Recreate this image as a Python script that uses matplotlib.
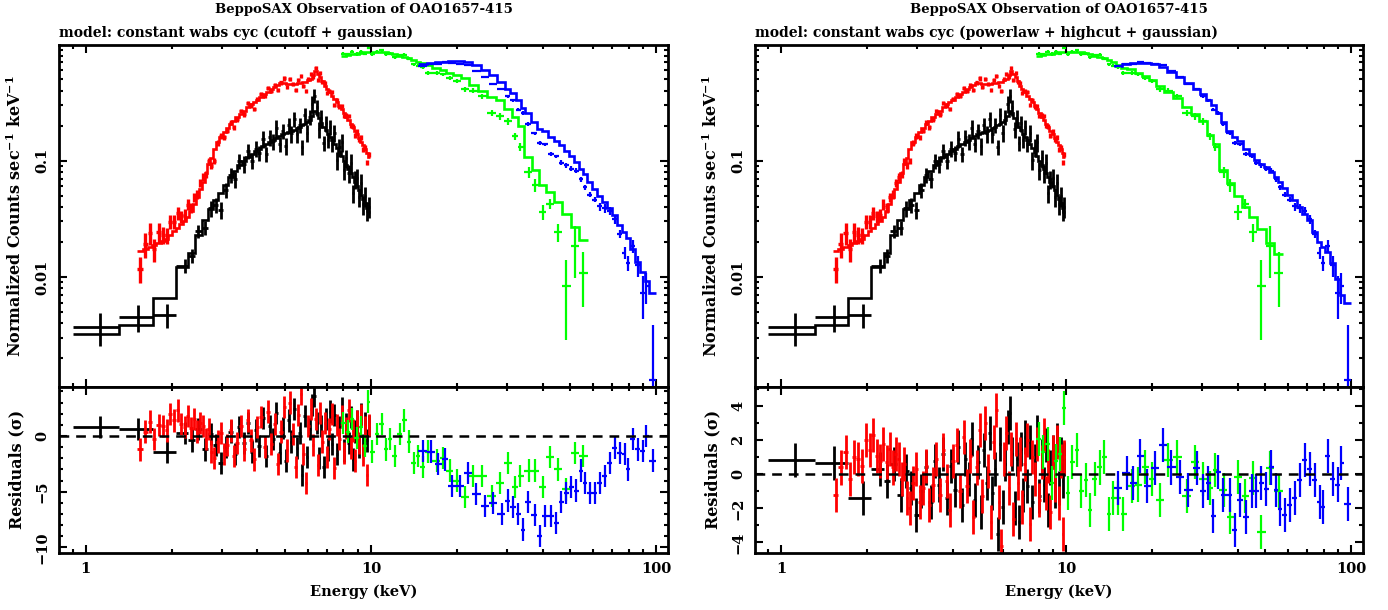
import numpy as np
import matplotlib
matplotlib.use('Agg')
import matplotlib.pyplot as plt
from matplotlib.ticker import LogLocator, MultipleLocator, NullFormatter

TITLE = 'BeppoSAX Observation of OAO1657-415'
MODEL_LEFT = 'model: constant wabs cyc (cutoff + gaussian)'
MODEL_RIGHT = 'model: constant wabs cyc (powerlaw + highcut + gaussian)'

# LECS (black): 3 wide bins + dense part
black_e = [1.12, 1.53, 1.93,
           2.22, 2.35, 2.48, 2.62, 2.74, 2.86, 2.98, 3.10, 3.22, 3.34,
           3.46, 3.58, 3.70, 3.82, 3.94, 4.06, 4.18, 4.30, 4.42, 4.54,
           4.66, 4.78, 4.90, 5.02, 5.14, 5.26, 5.38, 5.50, 5.62, 5.74,
           5.86, 5.98, 6.10, 6.22, 6.34, 6.46, 6.58, 6.70, 6.82, 6.94,
           7.06, 7.18, 7.30, 7.45, 7.60, 7.75, 7.90, 8.05, 8.20, 8.35,
           8.50, 8.65, 8.80, 8.95, 9.10, 9.25, 9.40, 9.55, 9.70, 9.85]
black_first_edge = 0.90
black_data = [0.00372, 0.00455, 0.00473,
              0.0125, 0.0152, 0.0247, 0.0265, 0.0389, 0.0416, 0.0377, 0.0558, 0.0749, 0.0689,
              0.0994, 0.094, 0.121, 0.0989, 0.127, 0.116, 0.154, 0.114, 0.158, 0.146,
              0.190, 0.139, 0.180, 0.134, 0.201, 0.171, 0.229, 0.169, 0.202, 0.131,
              0.245, 0.174, 0.239, 0.307, 0.360, 0.286, 0.186, 0.231, 0.141, 0.209,
              0.150, 0.195, 0.140, 0.173, 0.101, 0.130, 0.144, 0.0831, 0.105, 0.0784,
              0.0952, 0.0523, 0.0694, 0.0713, 0.0487, 0.0643, 0.0421, 0.0497, 0.0370, 0.0402]
black_frac = [0.32, 0.26, 0.23,
              0.14, 0.14, 0.13, 0.14, 0.15, 0.15, 0.16, 0.15, 0.15, 0.16,
              0.15, 0.16, 0.14, 0.15, 0.16, 0.15, 0.16, 0.14, 0.15, 0.16,
              0.17, 0.15, 0.14, 0.16, 0.15, 0.17, 0.15, 0.16, 0.14, 0.15,
              0.16, 0.17, 0.15, 0.16, 0.14, 0.15, 0.16, 0.17, 0.15, 0.16,
              0.14, 0.15, 0.16, 0.17, 0.18, 0.17, 0.18, 0.18, 0.17, 0.18,
              0.19, 0.18, 0.18, 0.19, 0.18, 0.19, 0.19, 0.20, 0.19, 0.20]
black_model = [0.00326, 0.00383, 0.00664,
               0.0121, 0.0160, 0.0230, 0.0310, 0.0380, 0.0460, 0.0530, 0.0620, 0.0720, 0.0820,
               0.0920, 0.100, 0.108, 0.115, 0.121, 0.127, 0.133, 0.139, 0.145, 0.151,
               0.157, 0.163, 0.168, 0.172, 0.176, 0.180, 0.185, 0.190, 0.196, 0.202,
               0.208, 0.215, 0.225, 0.240, 0.265, 0.255, 0.232, 0.212, 0.196, 0.182,
               0.170, 0.160, 0.150, 0.139, 0.128, 0.118, 0.109, 0.100, 0.092, 0.085,
               0.078, 0.072, 0.066, 0.061, 0.056, 0.051, 0.047, 0.043, 0.039, 0.036]
black_res = [0.83, 0.65, -1.4,
             0.3, -0.4, 0.6, -1.2, 0.2, -0.8, -2.4, -1.0, 0.4, -1.6,
             0.8, -0.6, 1.2, -1.4, 0.5, -0.9, 1.6, -1.8, 0.9, -0.3,
             2.1, -1.5, 0.7, -2.2, 1.4, -0.5, 2.4, -1.1, 0.3, -3.5,
             1.8, -1.9, 0.6, 2.8, 3.6, 1.2, -2.0, 0.9, -2.8, 1.5,
             -1.2, 2.2, -0.7, 1.9, -1.6, 0.8, 2.5, -1.3, 1.1, -0.6,
             1.7, -2.1, 0.4, 1.3, -1.0, 2.0, -0.8, 1.2, -0.4, 0.9]

# MECS (red)
red_e = [1.55, 1.62, 1.68, 1.74, 1.80, 1.86, 1.92, 1.98, 2.04, 2.10,
         2.16, 2.22, 2.28, 2.34, 2.40, 2.46, 2.52, 2.58, 2.64, 2.70,
         2.76, 2.82, 2.90, 2.98, 3.06, 3.14, 3.22, 3.30, 3.40, 3.50,
         3.60, 3.70, 3.80, 3.90, 4.00, 4.12, 4.24, 4.36, 4.48, 4.60,
         4.72, 4.84, 4.96, 5.08, 5.20, 5.32, 5.44, 5.56, 5.68, 5.80,
         5.92, 6.04, 6.16, 6.28, 6.40, 6.52, 6.64, 6.76, 6.88, 7.00,
         7.15, 7.30, 7.45, 7.60, 7.75, 7.90, 8.05, 8.20, 8.35, 8.50,
         8.65, 8.80, 8.95, 9.10, 9.25, 9.40, 9.55, 9.70, 9.85]
red_data = [0.0118, 0.0193, 0.0239, 0.0173, 0.0244, 0.0230, 0.0228, 0.0299, 0.0299, 0.0356,
            0.0332, 0.0342, 0.0419, 0.0396, 0.0483, 0.0510, 0.0644, 0.0719, 0.0757, 0.0986,
            0.0903, 0.100, 0.1407, 0.163, 0.158, 0.181, 0.211, 0.194, 0.227, 0.266,
            0.249, 0.314, 0.298, 0.278, 0.341, 0.374, 0.357, 0.424, 0.399, 0.449,
            0.403, 0.469, 0.508, 0.431, 0.506, 0.459, 0.407, 0.497, 0.537, 0.440,
            0.398, 0.506, 0.553, 0.523, 0.620, 0.497, 0.564, 0.470, 0.461, 0.379,
            0.394, 0.391, 0.301, 0.331, 0.292, 0.295, 0.241, 0.245, 0.242, 0.199,
            0.197, 0.164, 0.177, 0.151, 0.159, 0.124, 0.130, 0.0957, 0.113]
red_frac = [0.25, 0.24, 0.22, 0.22, 0.20, 0.16, 0.15, 0.14, 0.14, 0.13,
            0.12, 0.12, 0.11, 0.10, 0.09, 0.09, 0.08, 0.08, 0.07, 0.07,
            0.07, 0.06, 0.06, 0.06, 0.055, 0.05, 0.05, 0.05, 0.05, 0.045,
            0.045, 0.045, 0.045, 0.04, 0.04, 0.04, 0.04, 0.04, 0.04, 0.04,
            0.04, 0.04, 0.04, 0.04, 0.04, 0.04, 0.04, 0.04, 0.04, 0.04,
            0.04, 0.04, 0.04, 0.04, 0.04, 0.04, 0.04, 0.04, 0.04, 0.04,
            0.04, 0.04, 0.04, 0.04, 0.04, 0.04, 0.045, 0.045, 0.045, 0.045,
            0.045, 0.045, 0.05, 0.05, 0.05, 0.05, 0.05, 0.05, 0.05]
red_model = [0.0168, 0.0175, 0.0180, 0.0187, 0.0195, 0.0203, 0.0212, 0.0230, 0.0247, 0.0265,
             0.0285, 0.0305, 0.0330, 0.0370, 0.0420, 0.0490, 0.0575, 0.0660, 0.0780, 0.0930,
             0.105, 0.125, 0.145, 0.160, 0.175, 0.190, 0.205, 0.218, 0.235, 0.252,
             0.268, 0.290, 0.305, 0.318, 0.330, 0.350, 0.372, 0.390, 0.410, 0.430,
             0.448, 0.462, 0.460, 0.455, 0.452, 0.455, 0.458, 0.462, 0.466, 0.470,
             0.478, 0.488, 0.505, 0.540, 0.585, 0.555, 0.520, 0.480, 0.440, 0.410,
             0.385, 0.362, 0.340, 0.318, 0.296, 0.275, 0.256, 0.238, 0.222, 0.208,
             0.193, 0.180, 0.168, 0.156, 0.145, 0.135, 0.125, 0.116, 0.108]
red_res = [-1.2, 0.4, 1.3, -0.3, 1.0, 0.9, 0.5, 2.0, 1.4, 2.3,
           1.1, 0.8, 1.8, 0.7, 1.5, 0.4, 1.2, 0.9, -0.3, 0.6,
           -1.4, -2.0, -0.5, 0.3, -1.6, -0.8, 0.5, -1.8, -0.6, 0.9,
           -1.2, 1.4, -0.4, -2.1, 0.8, 1.7, -1.0, 2.2, -0.7, 1.1,
           -2.5, 0.4, 2.6, -1.3, 3.0, 0.2, -2.8, 1.9, 3.8, -1.6,
           -4.2, 0.9, 2.4, -0.8, 1.5, -2.6, 2.1, -0.5, 1.2, -1.9,
           0.6, 2.0, -2.9, 1.0, -0.3, 1.8, -1.5, 0.7, 2.3, -1.1,
           0.5, -2.2, 1.3, -0.6, 1.9, -1.7, 0.8, -3.5, 1.0]

# HPGSPC (green)
green_e = [8.0, 8.3, 8.6, 8.9, 9.2, 9.5, 9.8, 10.1, 10.5, 10.9,
           11.3, 11.7, 12.1, 12.6, 13.1, 13.6, 14.1, 14.6, 15.2, 15.8,
           17.0, 17.9, 18.9, 20.0, 21.4, 22.8, 24.5, 26.5, 28.4, 30.3,
           32.0, 33.3, 35.7, 37.6, 40.0, 42.5, 45.1, 48.3, 52.0, 55.6]
green_data = [0.83, 0.82, 0.86, 0.825, 0.86, 0.83, 0.93, 0.825, 0.865, 0.89,
              0.82, 0.83, 0.775, 0.805, 0.815, 0.75, 0.67, 0.655, 0.64, 0.57,
              0.57, 0.55, 0.516, 0.483, 0.41, 0.40, 0.358, 0.257, 0.240, 0.218,
              0.162, 0.132, 0.080, 0.0615, 0.0361, 0.0426, 0.0243, 0.0084, 0.0186, 0.0109]
green_err = [0.025, 0.025, 0.026, 0.025, 0.026, 0.025, 0.027, 0.025, 0.026, 0.026,
             0.025, 0.025, 0.024, 0.025, 0.025, 0.024, 0.023, 0.023, 0.022, 0.022,
             0.021, 0.021, 0.020, 0.020, 0.019, 0.019, 0.018, 0.016, 0.015, 0.014,
             0.012, 0.011, 0.0085, 0.0075, 0.0055, 0.0045, 0.0042, 0.0055, 0.0088, 0.0054]
green_model_left = [0.80, 0.81, 0.82, 0.83, 0.84, 0.85, 0.855, 0.86, 0.86, 0.86,
                    0.85, 0.84, 0.82, 0.80, 0.78, 0.76, 0.73, 0.70, 0.69, 0.66,
                    0.62, 0.60, 0.57, 0.54, 0.51, 0.45, 0.40, 0.355, 0.335, 0.28,
                    0.235, 0.20, 0.108, 0.083, 0.062, 0.054, 0.044, 0.035, 0.027, 0.0206]
green_model_right = [0.80, 0.81, 0.82, 0.83, 0.84, 0.85, 0.855, 0.86, 0.86, 0.86,
                     0.85, 0.84, 0.82, 0.80, 0.78, 0.76, 0.73, 0.70, 0.66, 0.63,
                     0.61, 0.57, 0.53, 0.49, 0.44, 0.39, 0.345, 0.29, 0.25, 0.22,
                     0.165, 0.14, 0.083, 0.064, 0.050, 0.040, 0.033, 0.026, 0.0195, 0.0157]
green_res_left = [1.2, 0.4, 1.5, -0.2, 0.8, -0.9, 3.1, -1.4, 0.2, 1.1,
                  -1.2, -0.3, -1.8, 0.2, 1.4, -0.5, -2.4, -1.8, -2.8, -1.4,
                  -2.2, -2.0, -3.1, -4.0, -5.5, -3.6, -3.6, -5.4, -4.2, -2.4,
                  -4.6, -3.6, -3.1, -3.1, -4.6, -1.9, -3.0, -4.8, -1.5, -1.8]
green_res_right = [2.1, 1.3, 1.8, -0.5, 0.8, 1.2, 3.9, -1.1, 0.75, 1.4,
                   -1.0, -0.35, -2.1, -0.3, 0.4, 1.0, -2.35, -1.4, -1.4, -2.35,
                   -0.7, -0.6, 0.45, -0.3, -1.5, 0.85, 1.0, -1.3, 0.75, -0.3,
                   -0.8, 0.25, -0.9, -2.5, -0.15, -1.3, -0.2, -3.4, 0.35, -1.0]

# PDS (blue)
blue_e = [15.2, 16.3, 17.2, 18.2, 19.2, 20.5, 21.9, 23.4, 25.1, 26.8,
          28.7, 30.2, 31.5, 32.8, 34.1, 35.5, 37.5, 39.0, 40.6, 42.9,
          44.7, 46.5, 48.4, 50.4, 52.5, 54.6, 56.1, 58.4, 60.8, 63.3,
          65.9, 68.6, 71.5, 74.4, 77.5, 79.6, 82.7, 86.2, 89.8, 92.2, 97.3]
blue_data = [0.645, 0.673, 0.678, 0.708, 0.685, 0.680, 0.657, 0.585, 0.518, 0.452,
             0.413, 0.357, 0.329, 0.274, 0.256, 0.206, 0.171, 0.142, 0.138, 0.114,
             0.109, 0.096, 0.091, 0.085, 0.0816, 0.0694, 0.0592, 0.051, 0.046, 0.0404,
             0.0389, 0.0368, 0.0313, 0.0236, 0.0161, 0.0132, 0.0184, 0.0126, 0.0073, 0.0084, 0.0013]
blue_frac = [0.02, 0.02, 0.02, 0.02, 0.02, 0.02, 0.02, 0.02, 0.02, 0.02,
             0.02, 0.035, 0.035, 0.035, 0.035, 0.035, 0.035, 0.035, 0.035, 0.035,
             0.035, 0.05, 0.05, 0.05, 0.05, 0.05, 0.05, 0.05, 0.05, 0.08,
             0.08, 0.08, 0.08, 0.08, 0.12, 0.14, 0.12, 0.20, 0.40, 0.30, 2.0]
blue_model_left = [0.675, 0.69, 0.70, 0.71, 0.715, 0.715, 0.70, 0.66, 0.60, 0.54,
                   0.47, 0.415, 0.38, 0.33, 0.285, 0.255, 0.215, 0.188, 0.18, 0.16,
                   0.148, 0.135, 0.12, 0.11, 0.098, 0.085, 0.077, 0.066, 0.057, 0.050,
                   0.044, 0.039, 0.034, 0.028, 0.0245, 0.0215, 0.0175, 0.0135, 0.011, 0.0092, 0.0073]
blue_model_right = [0.655, 0.672, 0.685, 0.693, 0.695, 0.675, 0.635, 0.58, 0.52, 0.46,
                    0.41, 0.37, 0.335, 0.30, 0.255, 0.215, 0.178, 0.16, 0.146, 0.125,
                    0.113, 0.101, 0.093, 0.0887, 0.080, 0.0727, 0.066, 0.058, 0.0504, 0.0455,
                    0.040, 0.0345, 0.0306, 0.0243, 0.0199, 0.018, 0.0163, 0.0133, 0.0096, 0.0070, 0.0060]
blue_res_left = [-1.35, -1.4, -2.5, -2.1, -4.5, -4.5, -3.3, -5.2, -6.3, -6.0,
                 -7.0, -5.8, -6.4, -7.0, -8.4, -5.9, -7.1, -9.0, -7.2, -7.2,
                 -7.8, -5.9, -5.1, -4.6, -4.9, -3.1, -4.2, -5.1, -5.1, -4.2,
                 -3.6, -2.4, -1.1, -1.5, -1.6, -3.0, -0.3, -1.2, -1.35, 0.0, -2.2]
blue_res_right = [-0.8, 0.05, -0.5, 1.05, -0.7, 0.35, 1.75, 0.4, -0.15, -0.9,
                  0.35, -1.0, -0.5, -2.45, 0.15, -1.2, -1.2, -3.25, -1.5, -2.5,
                  -1.0, -1.0, -0.5, -0.85, 0.4, -0.9, -2.05, -2.4, -1.8, -1.4,
                  -0.35, 0.85, 0.3, -0.35, -1.6, -1.9, 1.05, -0.25, -0.6, 0.65, -1.75]

BLACK, RED, GREEN, BLUE = '#000000', '#ff0000', '#00ff00', '#0000ff'
XLIM = (0.808, 110.0)

plt.rcParams['font.family'] = 'DejaVu Serif'
plt.rcParams['font.weight'] = 'bold'
plt.rcParams['axes.labelweight'] = 'bold'
plt.rcParams['font.size'] = 10
plt.rcParams['mathtext.fontset'] = 'dejavuserif'
plt.rcParams['mathtext.default'] = 'bf'
plt.rcParams['lines.scale_dashes'] = False


def bin_edges(e, first=None):
	e = np.asarray(e, float)
	mid = np.sqrt(e[1:] * e[:-1])
	edges = np.concatenate([[e[0] ** 2 / mid[0]], mid, [e[-1] ** 2 / mid[-1]]])
	if first is not None:
		edges[0] = first
	return edges


def spectrum(ax, e, y, err, model, color, first=None, lw=1.4):
	e = np.asarray(e, float)
	y = np.asarray(y, float)
	err = np.asarray(err, float)
	ed = bin_edges(e, first)
	lo = np.minimum(err, y * 0.9999)
	ax.errorbar(e, y, xerr=[e - ed[:-1], ed[1:] - e], yerr=[lo, err],
	            fmt='none', ecolor=color, elinewidth=lw, capsize=0)
	ax.stairs(model, ed, baseline=None, color=color, lw=1.9)


def residuals(ax, e, r, color, first=None, lw=1.4):
	e = np.asarray(e, float)
	ed = bin_edges(e, first)
	ax.errorbar(e, r, xerr=[e - ed[:-1], ed[1:] - e], yerr=1.0,
	            fmt='none', ecolor=color, elinewidth=lw, capsize=0)


def style(ax):
	for s in ax.spines.values():
		s.set_linewidth(2.0)
	ax.tick_params(which='both', direction='in', top=True, right=True, width=1.5,
	               labelsize=10.5)
	ax.tick_params(which='major', length=5.5, pad=7)
	ax.tick_params(which='minor', length=3)
	ax.set_xscale('log')
	ax.set_xlim(*XLIM)
	ax.set_xticks([1, 10, 100], ['1', '10', '100'])
	ax.xaxis.set_minor_locator(LogLocator(base=10, subs=np.arange(2, 10)))
	ax.xaxis.set_minor_formatter(NullFormatter())


def panel(fig, left, width, subtitle, g_model, b_model, g_res, b_res, rlim, rticks):
	top = fig.add_axes([left, 0.36607, width, 0.56016])
	bot = fig.add_axes([left, 0.09393, width, 0.27213])
	for ax in (top, bot):
		style(ax)

	black_err = np.array(black_data) * np.array(black_frac)
	red_err = np.array(red_data) * np.array(red_frac)
	blue_err = np.array(blue_data) * np.array(blue_frac)

	spectrum(top, black_e, black_data, black_err, black_model, BLACK, first=black_first_edge, lw=2.0)
	spectrum(top, red_e, red_data, red_err, red_model, RED, lw=2.4)
	spectrum(top, green_e, green_data, green_err, g_model, GREEN, lw=1.6)
	spectrum(top, blue_e, blue_data, blue_err, b_model, BLUE, lw=1.6)
	top.set_yscale('log')
	top.set_ylim(0.00114, 0.985)
	top.set_yticks([0.01, 0.1], ['0.01', '0.1'])
	top.yaxis.set_minor_locator(LogLocator(base=10, subs=np.arange(2, 10)))
	top.yaxis.set_minor_formatter(NullFormatter())
	top.tick_params(labelbottom=False)
	top.set_ylabel(r'Normalized Counts sec$^{-1}$ keV$^{-1}$', fontsize=11.5)
	top.yaxis.set_label_coords(-0.056, 0.5)

	residuals(bot, black_e, black_res, BLACK, first=black_first_edge, lw=2.0)
	residuals(bot, red_e, red_res, RED, lw=2.0)
	residuals(bot, green_e, g_res, GREEN, lw=1.6)
	residuals(bot, blue_e, b_res, BLUE, lw=1.6)
	bot.axhline(0, color='k', lw=1.8, dashes=(7, 5), zorder=5)
	bot.set_ylim(*rlim)
	bot.set_yticks(rticks, [str(t).replace('-', '\u2212') for t in rticks])
	bot.yaxis.set_minor_locator(MultipleLocator(1))
	bot.set_ylabel('Residuals (\u03c3)', fontsize=11.5)
	bot.yaxis.set_label_coords(-0.056, 0.5)
	bot.set_xlabel('Energy (keV)', fontsize=10.5, va='center')
	bot.xaxis.set_label_coords(0.5, -0.237)

	for ax in (top, bot):
		for lab in ax.get_yticklabels() + ax.get_xticklabels():
			lab.set_fontweight('bold')
		for lab in ax.get_yticklabels():
			lab.set_rotation(90)
			lab.set_va('center')

	cx = left + width / 2
	fig.text(cx, 0.984, TITLE, ha='center', va='center', fontsize=9.5)
	fig.text(left, 0.946, subtitle, ha='left', va='center', fontsize=10)


def main():
	fig = plt.figure(figsize=(13.88, 6.10), dpi=100)
	panel(fig, 0.04272, 0.43855, MODEL_LEFT, green_model_left, blue_model_left,
	      green_res_left, blue_res_left, (-10.48, 4.43), [-10, -5, 0])
	panel(fig, 0.54395, 0.43804, MODEL_RIGHT, green_model_right, blue_model_right,
	      green_res_right, blue_res_right, (-4.61, 5.15), [-4, -2, 0, 2, 4])
	fig.savefig('out.png', dpi=100)


if __name__ == '__main__':
	main()
